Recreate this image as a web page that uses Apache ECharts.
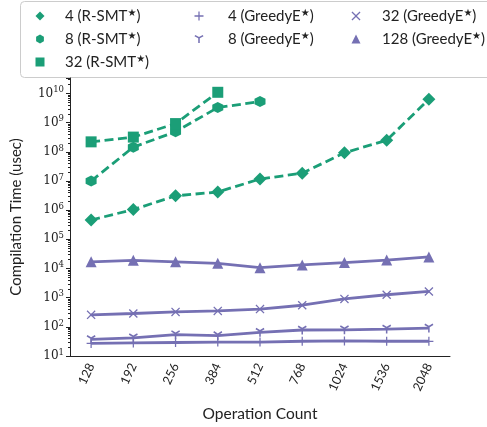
<!DOCTYPE html>
<html>
<head>
<meta charset="utf-8">
<script src="https://cdn.jsdelivr.net/npm/echarts@6/dist/echarts.min.js"></script>
<style>html,body{margin:0;padding:0;background:#fff}#c{width:487px;height:427px}</style>
</head>
<body>
<div id="c"></div>
<script>
const categories = ['128', '192', '256', '384', '512', '768', '1024', '1536', '2048'];
const rsmt4 = [4.6e5, 1.05e6, 3.1e6, 4.2e6, 1.17e7, 1.85e7, 9.3e7, 2.5e8, 6.3e9];
const rsmt8 = [1.0e7, 1.45e8, 4.9e8, 3.3e9, 5.3e9];
const rsmt32 = [2.2e8, 3.2e8, 9.3e8, 1.1e10];
const greedy4 = [27, 28, 29, 30, 30, 32, 33, 32, 32];
const greedy8 = [37, 42, 54, 50, 65, 78, 79, 84, 91];
const greedy32 = [258, 287, 325, 350, 405, 550, 905, 1260, 1630];
const greedy128 = [1.7e4, 1.9e4, 1.7e4, 1.5e4, 1.07e4, 1.33e4, 1.6e4, 1.95e4, 2.5e4];
const yMin = 10;
const yMax = 3.4e10;

const GREEN = '#1b9e77';
const PURPLE = '#7570b3';
const SANS = 'Lato';
const SERIF = 'DejaVu Serif';

const SYM = {
  diamond: 'diamond',
  hexagon: 'path://M0,-5L4.33,-2.5L4.33,2.5L0,5L-4.33,2.5L-4.33,-2.5Z',
  square: 'rect',
  plus: 'path://M-0.7,-5H0.7V-0.7H5V0.7H0.7V5H-0.7V0.7H-5V-0.7H-0.7Z',
  tridown: 'path://M-0.8,0V5H0.8V0L4.7,-2.2L3.9,-3.6L0,-1.4L-3.9,-3.6L-4.7,-2.2Z',
  cross: 'path://M-4,-5L0,-1L4,-5L5,-4L1,0L5,4L4,5L0,1L-4,5L-5,4L-1,0L-5,-4Z',
  triangle: 'triangle'
};

const seriesDefs = [
  {name: '4 (R-SMT★)', data: rsmt4, color: GREEN, symbol: SYM.diamond, size: 13, dashed: true},
  {name: '8 (R-SMT★)', data: rsmt8, color: GREEN, symbol: SYM.hexagon, size: 11, dashed: true},
  {name: '32 (R-SMT★)', data: rsmt32, color: GREEN, symbol: SYM.square, size: 11, dashed: true},
  {name: '4 (GreedyE★)', data: greedy4, color: PURPLE, symbol: SYM.plus, size: 9, dashed: false},
  {name: '8 (GreedyE★)', data: greedy8, color: PURPLE, symbol: SYM.tridown, size: 9, dashed: false},
  {name: '32 (GreedyE★)', data: greedy32, color: PURPLE, symbol: SYM.cross, size: 9, dashed: false},
  {name: '128 (GreedyE★)', data: greedy128, color: PURPLE, symbol: SYM.triangle, size: 11, dashed: false}
];

const legendFmt = n => '{a|' + n.replace('★', '}{s|★}{a|') + '}';
function mkLegend(names, iconCenter, textStart) {
  const w = 9;
  const left = iconCenter - w / 2;
  const pad = textStart - (left + w + 5);
  return {
    orient: 'vertical', left: left, top: 8, itemWidth: w, itemHeight: 9, itemGap: 7.5,
    padding: 0, selectedMode: false,
    data: names.map(n => ({name: n, icon: seriesDefs.find(s => s.name === n).symbol})),
    formatter: legendFmt,
    textStyle: {
      color: '#222',
      padding: [0, 0, 0, pad],
      rich: {
        a: {fontFamily: SANS, fontSize: 15, color: '#222', lineHeight: 16},
        s: {fontFamily: 'DejaVu Sans', fontSize: 10, color: '#222', verticalAlign: 'top', lineHeight: 10}
      }
    }
  };
}

const chart = echarts.init(document.getElementById('c'), null, {renderer: 'canvas'});
chart.setOption({
  animation: false,
  backgroundColor: '#fff',
  graphic: [{
    type: 'rect', left: 20, top: 1, z: -1,
    shape: {width: 480, height: 76, r: 4},
    style: {fill: '#fff', stroke: '#cccccc', lineWidth: 1}
  }],
  legend: [
    mkLegend(['4 (R-SMT★)', '8 (R-SMT★)', '32 (R-SMT★)'], 40, 65),
    mkLegend(['4 (GreedyE★)', '8 (GreedyE★)'], 199, 228),
    mkLegend(['32 (GreedyE★)', '128 (GreedyE★)'], 356, 382)
  ],
  grid: {left: 70, right: 37, top: 78, bottom: 64},
  xAxis: {
    type: 'category', data: categories, boundaryGap: true,
    name: 'Operation Count', nameLocation: 'middle', nameGap: 50,
    nameTextStyle: {fontFamily: SANS, fontSize: 15.5, color: '#222'},
    axisLine: {lineStyle: {color: '#222', width: 1}},
    axisTick: {alignWithLabel: true, length: 4, lineStyle: {color: '#222'}},
    axisLabel: {rotate: 65, margin: 8, fontFamily: SANS, fontSize: 12.5, color: '#222'}
  },
  yAxis: {
    type: 'log', logBase: 10, min: yMin, max: yMax, splitNumber: 10,
    name: 'Compilation Time (usec)', nameLocation: 'middle', nameGap: 46,
    nameTextStyle: {fontFamily: SANS, fontSize: 15, color: '#222'},
    axisLine: {show: true, lineStyle: {color: '#222', width: 1}},
    axisTick: {show: true, length: 4, lineStyle: {color: '#222'}},
    minorTick: {show: true, splitNumber: 9, length: 2, lineStyle: {color: '#222'}},
    splitLine: {show: false},
    axisLabel: {
      margin: 6,
      formatter: v => {
        const e = Math.log10(v);
        if (Math.abs(e - Math.round(e)) > 1e-6) return '';
        return '{b|10}{e|' + Math.round(e) + '}';
      },
      rich: {
        b: {fontFamily: SERIF, fontSize: 12, color: '#222', lineHeight: 16},
        e: {fontFamily: SERIF, fontSize: 8.5, color: '#222', verticalAlign: 'top', lineHeight: 9}
      }
    }
  },
  series: seriesDefs.map(s => ({
    name: s.name, type: 'line', data: s.data,
    symbol: s.symbol, symbolSize: s.size, showSymbol: true,
    itemStyle: {color: s.color},
    lineStyle: {color: s.color, width: 2.8, type: s.dashed ? [9, 4.5] : 'solid'},
    emphasis: {disabled: true}
  }))
});
</script>
</body>
</html>
